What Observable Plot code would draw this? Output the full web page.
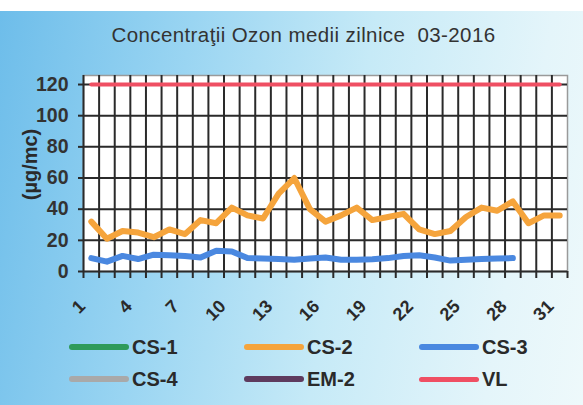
<!DOCTYPE html>
<html>
<head>
<meta charset="utf-8">
<script src="https://cdn.jsdelivr.net/npm/d3@7"></script>
<script src="https://cdn.jsdelivr.net/npm/@observablehq/plot@0.6"></script>
<style>
  html, body { margin: 0; padding: 0; background: #fff; }
  #chart {
    width: 583px; height: 405px; position: relative; overflow: hidden;
    font-family: "Liberation Sans", Arial, sans-serif;
    background:
      linear-gradient(#ffffff, #ffffff) top left / 100% 11px no-repeat,
      linear-gradient(100deg, #6dbdea 0%, #9ad5f2 30%, #c6eaf7 58%, #e4f5fa 85%, #eef9fb 100%);
  }
  #title {
    height: 60px; box-sizing: border-box; padding-top: 25px; padding-left: 24px;
    text-align: center; font-size: 20.5px; letter-spacing: 0.4px; line-height: 20px; color: #333; white-space: pre;
  }
  #plot svg { display: block; overflow: visible; }
  #legend { position: relative; height: 70px; }
  .item { position: absolute; display: flex; align-items: center; font-weight: bold; font-size: 20px; color: #2a2a2a; }
  .sw { width: 60px; height: 6px; border-radius: 3px; margin-right: 3px; }
</style>
</head>
<body>
<div id="chart">
  <div id="title"></div>
  <div id="plot"></div>
  <div id="legend"></div>
</div>
<script>
const titleText = "Concentraţii Ozon medii zilnice  03-2016";
const yLabel = "(µg/mc)";
const days = [1,2,3,4,5,6,7,8,9,10,11,12,13,14,15,16,17,18,19,20,21,22,23,24,25,26,27,28,29,30,31];
const dayLabels = [1,4,7,10,13,16,19,22,25,28,31];
const yTicks = [0,20,40,60,80,100,120];
const seriesNames = ["CS-1","CS-2","CS-3","CS-4","EM-2","VL"];
const seriesColors = ["#2f9a5a","#f5a43c","#4a88e0","#a9a9a9","#5e3b5e","#ef4f63"];
const cs1 = [];
const cs2 = [32,21,26,25,22,27,24,33,31,41,36,34,50,60,40,32,36,41,33,35,37,27,24,26,35,41,39,45,31,36,36];
const cs3 = [8.6,6.3,10,8,10.8,10.4,10,9,13.3,12.9,8.6,8.3,8,7.5,8.4,9,7.5,7.6,7.8,8.6,10,10.4,9,7,7.5,8,8.4,8.6];
const cs4 = [];
const em2 = [];
const vl = [120,120,120,120,120,120,120,120,120,120,120,120,120,120,120,120,120,120,120,120,120,120,120,120,120,120,120,120,120,120,120];

document.getElementById("title").textContent = titleText;

const seriesValues = [cs1, cs2, cs3, cs4, em2, vl];
const rows = [];
seriesNames.forEach((name, si) => {
  seriesValues[si].forEach((v, i) => rows.push({series: name, day: days[i], value: v}));
});
const bounds = days.map(d => d - 0.5).concat([days[days.length - 1] + 0.5]);
const yMax = 125.8;
const color = {domain: seriesNames, range: seriesColors};

const plot = Plot.plot({
  width: 583,
  height: 275,
  marginTop: 15,
  marginBottom: 64,
  marginLeft: 83,
  marginRight: 16,
  style: {fontFamily: "'Liberation Sans', Arial, sans-serif", fontWeight: "bold", fontSize: "18px", color: "#222", background: "transparent", overflow: "visible"},
  x: {type: "linear", domain: [bounds[0], bounds[bounds.length - 1]], axis: null},
  y: {domain: [0, yMax], axis: null},
  color,
  marks: [
    Plot.frame({fill: "white", stroke: "#9a9a9a", strokeWidth: 1.5}),
    Plot.ruleY(yTicks, {stroke: "#2a2a2a", strokeWidth: 2}),
    Plot.ruleX(bounds.slice(0, -1), {stroke: "#2a2a2a", strokeWidth: 2}),
    Plot.axisY(yTicks, {tickSize: 5, tickPadding: 10, strokeWidth: 2, stroke: "#2a2a2a", label: null, fontSize: 19.5, fill: "#333"}),
    Plot.axisX(bounds, {tickSize: 7, strokeWidth: 2, stroke: "#2a2a2a", tickFormat: () => "", label: null}),
    Plot.text(dayLabels, {x: d => d, text: d => String(d), frameAnchor: "bottom", rotate: -45, textAnchor: "end", lineAnchor: "top", dx: -14, dy: 27, fontSize: 18, fill: "#2a2a2a"}),
    Plot.text([yLabel], {frameAnchor: "left", rotate: -90, textAnchor: "middle", lineAnchor: "top", dx: -61, dy: -9, fontSize: 20, fill: "#2a2a2a"}),
    Plot.lineY(rows, {x: "day", y: "value", z: "series", stroke: "series", strokeWidth: d => d.series === "VL" ? 4 : 6, strokeLinejoin: "round", strokeLinecap: "round"})
  ]
});
document.getElementById("plot").appendChild(plot);

const legend = document.getElementById("legend");
const legX = [69, 244, 419];
const legY = [12, 44];
seriesNames.forEach((name, i) => {
  const it = document.createElement("div");
  it.className = "item";
  it.style.left = legX[i % 3] + "px";
  it.style.top = (legY[Math.floor(i / 3)] - 12) + "px";
  it.style.height = "24px";
  const sw = document.createElement("span");
  sw.className = "sw";
  sw.style.background = seriesColors[i];
  if (name === "VL") sw.style.height = "5px";
  const tx = document.createElement("span");
  tx.textContent = name;
  it.appendChild(sw); it.appendChild(tx);
  legend.appendChild(it);
});
</script>
</body>
</html>
